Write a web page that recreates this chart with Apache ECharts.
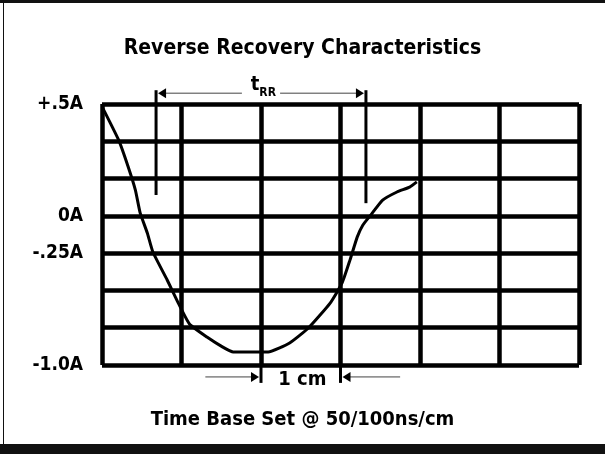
<!DOCTYPE html>
<html>
<head>
<meta charset="utf-8">
<script src="https://cdn.jsdelivr.net/npm/echarts@6/dist/echarts.min.js"></script>
<style>
html,body{margin:0;padding:0;background:#fff}
#chart{width:605px;height:454px}
</style>
</head>
<body>
<div id="chart"></div>
<script>
// scope trace in divisions (6 across, 7 up)
var timeDiv = [0.01, 0.21, 0.33, 0.42, 0.48, 0.57, 0.64, 0.82, 0.96, 1.10, 1.32, 1.52, 1.65,
               2.09, 2.36, 2.60, 2.87, 3.02, 3.12, 3.21, 3.28, 3.38, 3.53, 3.71, 3.87, 3.96];
var currentDiv = [6.89, 6.03, 5.31, 4.69, 4.08, 3.54, 3.03, 2.28, 1.66, 1.10, 0.75, 0.48, 0.35,
                  0.35, 0.59, 1.00, 1.66, 2.20, 2.82, 3.43, 3.75, 4.02, 4.42, 4.64, 4.77, 4.91];
// tick labels on the graticule rows
var yTickLabels = {0: '-1.0A', 3: '-.25A', 4: '0A', 7: '+.5A'};
// markers: [x, yTop, yBottom]
var markerLines = [[0.68, 7.37, 4.56], [3.32, 7.37, 4.34], [2, 0, -0.48], [3, 0, -0.48]];
// arrows: [xTail, xTip, y]
var arrows = [[1.76, 0.68, 7.29], [2.24, 3.32, 7.29], [1.30, 2, -0.32], [3.75, 3, -0.32]];
// labels: [x, y, text]
var notes = [[2.03, 7.40, '{t|t}{s|RR}'], [2.52, -0.40, '{c|1 cm}']];

var FONT = "'Liberation Sans Narrow', 'DejaVu Sans Condensed', sans-serif";

var myChart = echarts.init(document.getElementById('chart'));

function renderMarker(params, api) {
    var a = api.coord([api.value(0), api.value(1)]);
    var b = api.coord([api.value(0), api.value(2)]);
    return {type: 'line', shape: {x1: a[0], y1: a[1], x2: b[0], y2: b[1]},
            style: {stroke: '#000', lineWidth: 3}};
}

function renderArrow(params, api) {
    var a = api.coord([api.value(0), api.value(2)]);
    var b = api.coord([api.value(1), api.value(2)]);
    var dir = b[0] > a[0] ? 1 : -1;
    var tip = b[0] - dir * 2;
    return {type: 'group', children: [
        {type: 'line', shape: {x1: a[0], y1: a[1], x2: tip - dir * 7, y2: a[1]},
         style: {stroke: '#444', lineWidth: 1}},
        {type: 'polygon', shape: {points: [[tip, b[1]], [tip - dir * 8, b[1] - 5], [tip - dir * 8, b[1] + 5]]},
         style: {fill: '#000'}}
    ]};
}

function renderNote(params, api) {
    var p = api.coord([api.value(0), api.value(1)]);
    return {type: 'text', x: p[0], y: p[1], style: {
        text: notes[params.dataIndex][2],
        align: 'center', verticalAlign: 'middle',
        rich: {
            t: {fontFamily: FONT, fontWeight: 'bold', fontSize: 20, fill: '#000', padding: [0, 0, 8, 0]},
            s: {fontFamily: FONT, fontWeight: 'bold', fontSize: 12, fill: '#000', padding: [8, 0, 0, 0]},
            c: {fontFamily: FONT, fontWeight: 'bold', fontSize: 20, fill: '#000'}
        }
    }};
}

var option = {
    animation: false,
    backgroundColor: '#fff',
    title: [
        {text: 'Reverse Recovery Characteristics', left: 'center', top: 33,
         textStyle: {fontFamily: FONT, fontWeight: 'bold', fontSize: 21, color: '#000'}},
        {text: 'Time Base Set @ 50/100ns/cm', left: 'center', top: 405,
         textStyle: {fontFamily: FONT, fontWeight: 'bold', fontSize: 20, color: '#000'}}
    ],
    graphic: [
        {type: 'rect', shape: {x: 0, y: 0, width: 605, height: 3}, style: {fill: '#111'}},
        {type: 'rect', shape: {x: 0, y: 444, width: 605, height: 10}, style: {fill: '#111'}},
        {type: 'rect', shape: {x: 3, y: 0, width: 1, height: 454}, style: {fill: '#111'}}
    ],
    grid: {left: 102, right: 26, top: 104, bottom: 89},
    xAxis: {
        type: 'value', min: 0, max: 6, interval: 1,
        axisLine: {show: false}, axisTick: {show: false}, axisLabel: {show: false},
        splitLine: {show: true, lineStyle: {color: '#000', width: 4.5}}
    },
    yAxis: {
        type: 'value', min: 0, max: 7, interval: 1,
        axisLine: {show: false}, axisTick: {show: false},
        axisLabel: {
            margin: 19, padding: [7, 0, 0, 0],
            fontFamily: FONT, fontWeight: 'bold', fontSize: 19, color: '#000',
            formatter: function (v) { return yTickLabels[v] || ''; }
        },
        splitLine: {show: true, lineStyle: {color: '#000', width: 4.5}}
    },
    series: [
        {
            type: 'line',
            data: timeDiv.map(function (t, i) { return [t, currentDiv[i]]; }),
            showSymbol: false, smooth: 0.15,
            lineStyle: {color: '#000', width: 3},
            z: 3
        },
        {type: 'custom', renderItem: renderMarker, data: markerLines, z: 4},
        {type: 'custom', renderItem: renderArrow, data: arrows, z: 4},
        {type: 'custom', renderItem: renderNote, data: notes.map(function (n) { return [n[0], n[1]]; }), z: 4}
    ]
};

myChart.setOption(option);
</script>
</body>
</html>
